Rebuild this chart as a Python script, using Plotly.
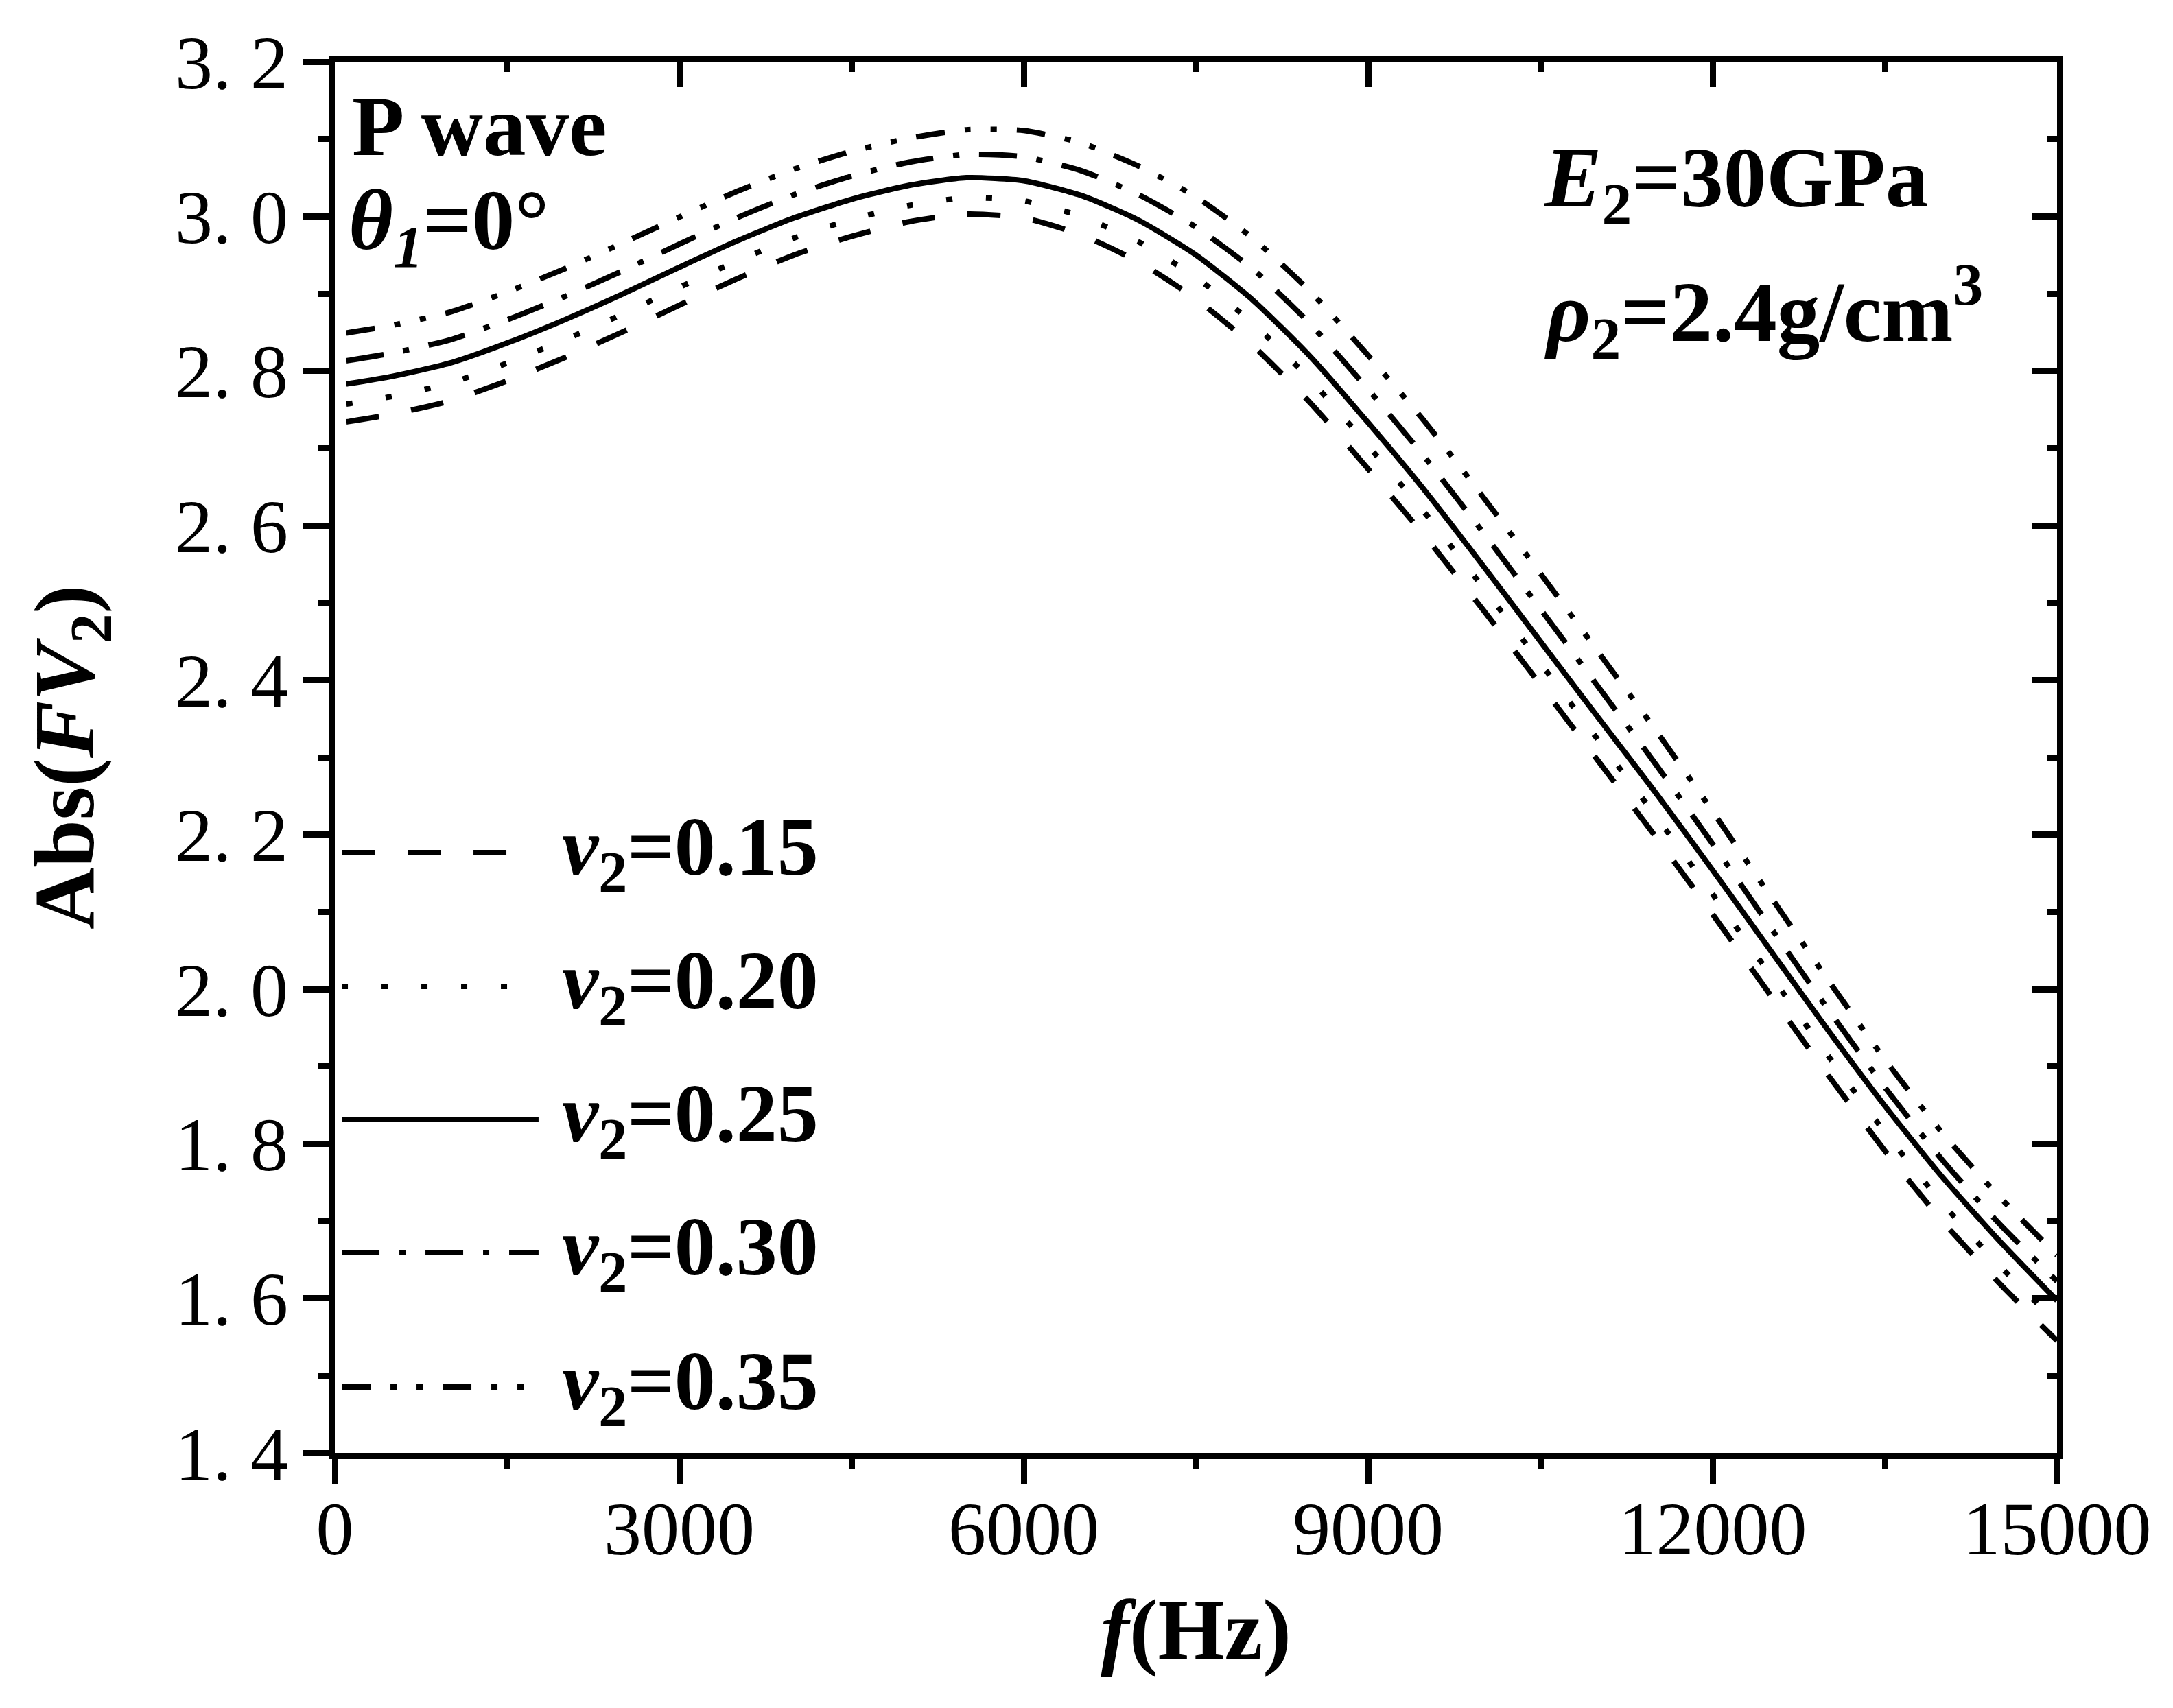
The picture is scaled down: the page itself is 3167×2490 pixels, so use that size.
import plotly.graph_objects as go

FONT = "Liberation Serif, Times New Roman, serif"

# frequency (Hz) and Abs(FV2)
freq = [100, 500, 1000, 1500, 2000, 2500, 3000, 3500, 4000, 4500, 5000,
        5500, 6000, 6500, 7000, 7500, 8000, 8500, 9000, 9500, 10000,
        10500, 11000, 11500, 12000, 12500, 13000, 13500, 14000, 14500, 15000]

fv2_015 = [2.734, 2.744, 2.761, 2.787, 2.817, 2.850, 2.885, 2.919, 2.950, 2.974, 2.993,
           3.003, 2.998, 2.976, 2.941, 2.893, 2.832, 2.758, 2.673, 2.585, 2.491,
           2.394, 2.296, 2.198, 2.097, 1.993, 1.890, 1.791, 1.700, 1.619, 1.545]
fv2_020 = [2.757, 2.767, 2.784, 2.810, 2.840, 2.873, 2.908, 2.942, 2.972, 2.996, 3.014,
           3.024, 3.020, 3.000, 2.967, 2.921, 2.861, 2.788, 2.703, 2.615, 2.520,
           2.422, 2.323, 2.225, 2.123, 2.019, 1.915, 1.815, 1.723, 1.642, 1.568]
fv2_025 = [2.783, 2.793, 2.810, 2.836, 2.866, 2.899, 2.934, 2.968, 2.998, 3.022, 3.040,
           3.050, 3.046, 3.027, 2.995, 2.950, 2.891, 2.818, 2.733, 2.644, 2.548,
           2.450, 2.352, 2.255, 2.154, 2.051, 1.948, 1.849, 1.757, 1.674, 1.597]
fv2_030 = [2.813, 2.823, 2.840, 2.866, 2.896, 2.929, 2.964, 2.998, 3.028, 3.052, 3.070,
           3.080, 3.077, 3.059, 3.028, 2.986, 2.931, 2.860, 2.776, 2.687, 2.591,
           2.492, 2.392, 2.292, 2.188, 2.081, 1.975, 1.873, 1.779, 1.696, 1.622]
fv2_035 = [2.849, 2.859, 2.876, 2.902, 2.932, 2.965, 2.999, 3.032, 3.061, 3.084, 3.101,
           3.112, 3.111, 3.095, 3.065, 3.025, 2.971, 2.902, 2.820, 2.733, 2.637,
           2.538, 2.437, 2.336, 2.230, 2.121, 2.013, 1.909, 1.814, 1.731, 1.656]

nu_labels = ["0.15", "0.20", "0.25", "0.30", "0.35"]
series = [fv2_015, fv2_020, fv2_025, fv2_030, fv2_035]
dashes = ["48px,48px", "9px,49px", "solid",
          "55px,29px,9px,29px", "42px,29px,9px,29px,9px,29px"]

x_tick_vals = [0, 3000, 6000, 9000, 12000, 15000]
x_tick_text = ["0", "3000", "6000", "9000", "12000", "15000"]
y_tick_vals = [1.4, 1.6, 1.8, 2.0, 2.2, 2.4, 2.6, 2.8, 3.0, 3.2]
y_tick_text = ["1. 4", "1. 6", "1. 8", "2. 0", "2. 2", "2. 4", "2. 6", "2. 8", "3. 0", "3. 2"]

fig = go.Figure()

for nu, vals, dash in zip(nu_labels, series, dashes):
    fig.add_trace(go.Scatter(
        x=freq, y=vals, mode="lines", name=f"ν2={nu}",
        line=dict(color="black", width=8, dash=dash, shape="spline", smoothing=0.6),
        showlegend=False,
    ))

# empty trace so the mirrored top/right axes get drawn
fig.add_trace(go.Scatter(x=[], y=[], xaxis="x2", yaxis="y2", showlegend=False, hoverinfo="skip"))

# legend drawn by hand so the key lines are long like the original
legend_y = [0.4315, 0.3353, 0.2396, 0.144, 0.0473]
for nu, dash, ly in zip(nu_labels, dashes, legend_y):
    fig.add_shape(type="line", xref="paper", yref="paper", x0=0.004, x1=0.1183,
                  y0=ly, y1=ly, line=dict(color="black", width=8, dash=dash))
    fig.add_annotation(xref="paper", yref="paper", x=0.131, y=ly,
                       xanchor="left", yanchor="middle", showarrow=False,
                       text=f"<b><i>ν</i><sub>2</sub>={nu}</b>",
                       font=dict(family=FONT, size=120, color="black"))

notes = [
    ("<b>P wave</b>", 0.009, 0.9537),
    ("<b><i>θ</i><sub><i>1</i></sub>=0°</b>", 0.0072, 0.8817),
    ("<b><i>E</i><sub>2</sub>=30GPa</b>", 0.7012, 0.9122),
    ("<b><i>ρ</i><sub>2</sub>=2.4g/cm<sup>3</sup></b>", 0.7012, 0.8206),
]
for text, nx, ny in notes:
    fig.add_annotation(xref="paper", yref="paper", x=nx, y=ny,
                       xanchor="left", yanchor="middle", showarrow=False,
                       text=text, font=dict(family=FONT, size=125, color="black"))

axis_common = dict(showline=True, linecolor="black", linewidth=9, showgrid=False,
                   zeroline=False, tickcolor="black", tickwidth=9, ticklen=37)

fig.update_layout(
    width=3167, height=2490,
    margin=dict(l=480, r=177, t=82, b=380),
    paper_bgcolor="white", plot_bgcolor="white",
    font=dict(family=FONT, size=110, color="black"),
    xaxis=dict(range=[0, 15000], tickvals=x_tick_vals, ticktext=x_tick_text, ticks="outside",
               ticklabelstandoff=-30,
               minor=dict(dtick=1500, ticks="outside", ticklen=15, tickwidth=9, tickcolor="black"),
               title=dict(text="<b><i>f</i>(Hz)</b>", font=dict(size=125), standoff=45),
               **axis_common),
    yaxis=dict(range=[1.4, 3.2], tickvals=y_tick_vals, ticktext=y_tick_text, ticks="outside",
               minor=dict(dtick=0.1, ticks="outside", ticklen=15, tickwidth=9, tickcolor="black"),
               title=dict(text="<b>Abs(<i>FV</i><sub>2</sub>)</b>", font=dict(size=125), standoff=80),
               **axis_common),
    xaxis2=dict(overlaying="x", side="top", anchor="y2", range=[0, 15000], tickvals=x_tick_vals,
                ticks="inside", showticklabels=False,
                minor=dict(dtick=1500, ticks="inside", ticklen=15, tickwidth=9, tickcolor="black"),
                **axis_common),
    yaxis2=dict(overlaying="y", side="right", anchor="x2", range=[1.4, 3.2], tickvals=y_tick_vals,
                ticks="inside", showticklabels=False,
                minor=dict(dtick=0.1, ticks="inside", ticklen=15, tickwidth=9, tickcolor="black"),
                **axis_common),
)

fig.write_html("out.html")
